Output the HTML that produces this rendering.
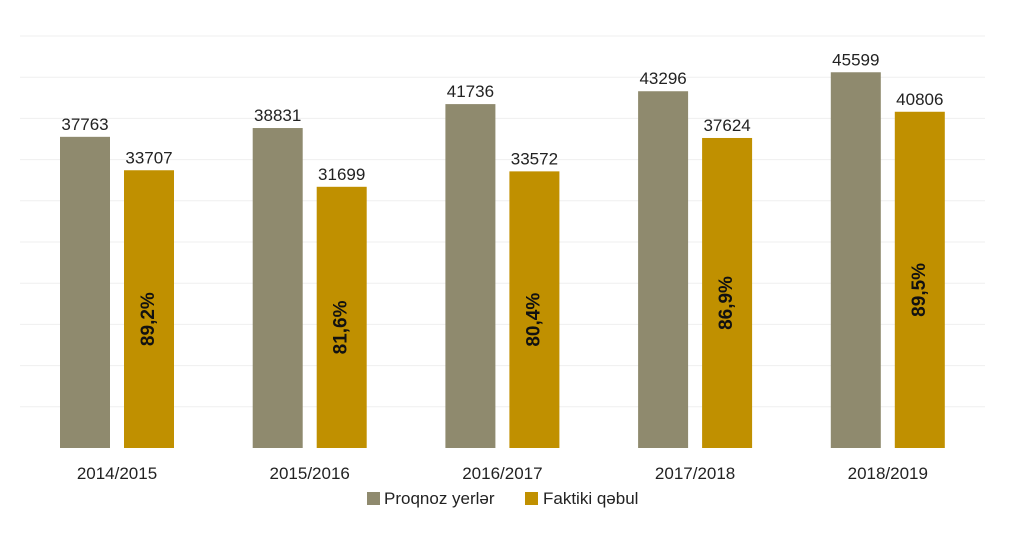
<!DOCTYPE html>
<html><head><meta charset="utf-8"><style>
body{margin:0;background:#fff;width:1010px;height:549px;overflow:hidden;font-family:"Liberation Sans",sans-serif}
</style></head><body>
<svg id="chart" width="1010" height="549" xmlns="http://www.w3.org/2000/svg" font-family="Liberation Sans, sans-serif">
<g id="grid"></g>
<g id="bars"></g>
<g id="labels"></g>
<g>
<rect x="367" y="492" width="13" height="13" fill="#8f8a6e"/>
<text x="384" y="504" font-size="17" fill="#222">Proqnoz yerlər</text>
<rect x="525" y="492" width="13" height="13" fill="#c09000"/>
<text x="543" y="504" font-size="17" fill="#222">Faktiki qəbul</text>
</g>
</svg>
<script>
const categories=["2014/2015","2015/2016","2016/2017","2017/2018","2018/2019"];
const proqnoz=[37763,38831,41736,43296,45599];
const faktiki=[33707,31699,33572,37624,40806];
const percents=["89,2%","81,6%","80,4%","86,9%","89,5%"];
const yMax=50000, yStep=5000;
const baseY=448, topY=36, x0=20, catW=192.7;
const y=v=>baseY-v/yMax*(baseY-topY);
const NS="http://www.w3.org/2000/svg";
function mk(tag,attrs,parent){const e=document.createElementNS(NS,tag);for(const k in attrs)e.setAttribute(k,attrs[k]);parent.appendChild(e);return e;}
const grid=document.getElementById('grid'),bars=document.getElementById('bars'),labels=document.getElementById('labels');
for(let v=yStep;v<=yMax;v+=yStep){
 const l=mk('line',{x1:20,x2:985,y1:y(v),y2:y(v),stroke:'#efefef','stroke-width':1},grid);
 
 
}
categories.forEach((c,i)=>{
 const gx=x0+i*catW+40;
 const b1=mk('rect',{x:gx,y:y(proqnoz[i]),width:50,height:baseY-y(proqnoz[i]),fill:'#8f8a6e'},bars);
 
 
 const b2=mk('rect',{x:gx+64,y:y(faktiki[i]),width:50,height:baseY-y(faktiki[i]),fill:'#c09000'},bars);
 
 
 const t1=mk('text',{x:gx+25,y:y(proqnoz[i])-7,'text-anchor':'middle','font-size':17,fill:'#222'},labels);t1.textContent=proqnoz[i];
 
 
 const t2=mk('text',{x:gx+89,y:y(faktiki[i])-7,'text-anchor':'middle','font-size':17,fill:'#222'},labels);t2.textContent=faktiki[i];
 
 
 const cy=(y(faktiki[i])+baseY)/2+10;
 const p=mk('text',{x:gx+89,y:cy,'text-anchor':'middle','dominant-baseline':'middle','font-size':19,'font-weight':'bold',fill:'#111',transform:`rotate(-90 ${gx+89} ${cy})`},labels);p.textContent=percents[i];
 
 
 const cl=mk('text',{x:gx+57,y:479,'text-anchor':'middle','font-size':17,fill:'#222'},labels);cl.textContent=c;
 
 
});
</script>
</body></html>
